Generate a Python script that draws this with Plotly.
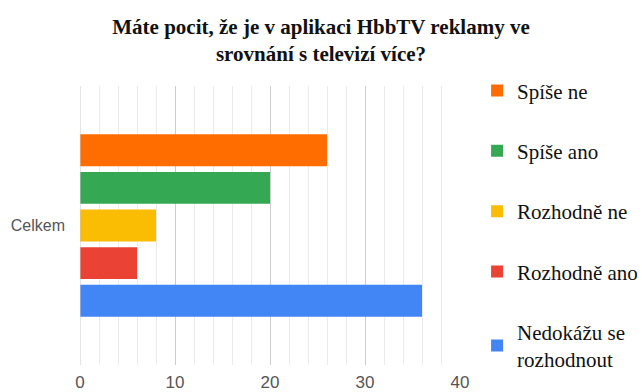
import plotly.graph_objects as go

# Survey answers (counts) for the single category "Celkem"
category = ["Celkem"]
answers = ["Nedokážu se<br>rozhodnout", "Rozhodně ano", "Rozhodně ne", "Spíše ano", "Spíše ne"]
counts = [36, 6, 8, 20, 26]
colors = ["#4285f4", "#ea4335", "#fbbc04", "#34a853", "#ff6d01"]

title_text = "Máte pocit, že je v aplikaci HbbTV reklamy ve<br>srovnání s televizí více?"
x_ticks = [0, 10, 20, 30, 40]

SERIF = "Liberation Serif, Times New Roman, serif"
SANS = "Liberation Sans, Arial, sans-serif"

fig = go.Figure()
n = len(answers)
for i, (name, val, col) in enumerate(zip(answers, counts, colors)):
    fig.add_trace(go.Bar(
        y=category, x=[val], name=name, orientation="h",
        marker=dict(color=col, line=dict(width=0)),
        legendgroup=f"g{i}", legendrank=n - i,
    ))

fig.update_layout(
    width=642, height=392,
    margin=dict(l=80, r=182, t=86, b=27, autoexpand=False),
    paper_bgcolor="white", plot_bgcolor="white",
    barmode="group", bargap=0.326, bargroupgap=0.15,
    title=dict(
        text=title_text, x=0.5, xanchor="center", y=0.913, yanchor="middle",
        font=dict(family=SERIF, size=21, color="#111111", weight="bold"),
    ),
    showlegend=True,
    legend=dict(
        x=1.045, xanchor="left", y=1.056, yanchor="top",
        traceorder="grouped", tracegroupgap=30, maxheight=400,
        font=dict(family=SERIF, size=21, color="#111111"),
        itemwidth=30, bgcolor="rgba(0,0,0,0)",
    ),
    font=dict(family=SANS, color="#555555"),
)

fig.update_xaxes(
    range=[0, 40], tickvals=x_ticks, ticktext=[str(t) for t in x_ticks],
    showgrid=True, gridcolor="#cccccc", gridwidth=1,
    minor=dict(dtick=2, showgrid=True, gridcolor="#ebebeb", gridwidth=1),
    zeroline=False, showline=False, ticks="",
    tickfont=dict(family=SANS, size=17, color="#555555"),
    ticklabelstandoff=5,
    fixedrange=True,
)
fig.update_yaxes(
    showgrid=False, zeroline=False, showline=False, ticks="",
    tickfont=dict(family=SANS, size=16, color="#555555"),
    ticklabelstandoff=14,
)
# left axis line at x = 0
fig.add_shape(type="line", xref="x", yref="paper", x0=0, x1=0, y0=0, y1=1,
              line=dict(color="#cccccc", width=1))

fig.write_html("out.html")
